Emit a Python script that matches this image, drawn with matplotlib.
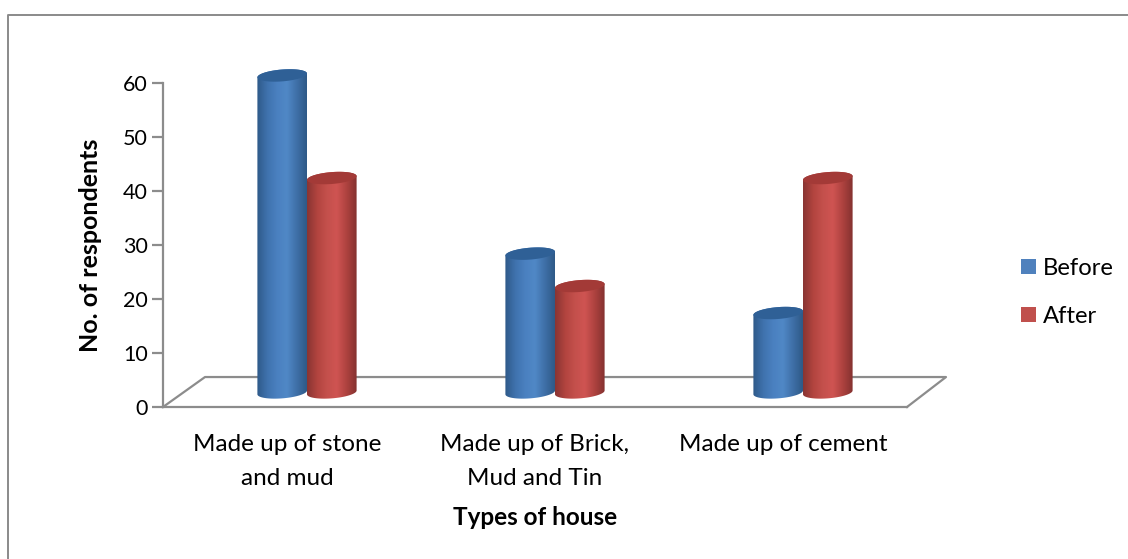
import numpy as np
from matplotlib import pyplot as plt
from matplotlib.colors import LinearSegmentedColormap
from matplotlib.lines import Line2D
from matplotlib.patches import Patch, Polygon

categories = ["Made up of stone\nand mud", "Made up of Brick,\nMud and Tin", "Made up of cement"]
before = [60, 27, 16]
after = [41, 21, 41]
y_ticks = [0, 10, 20, 30, 40, 50, 60]

plt.rcParams["font.family"] = ["Lato", "DejaVu Sans"]

fig = plt.figure(figsize=(11.28, 5.59), dpi=100)
W, H = 1128, 559
ax = fig.add_axes([163 / W, (H - 407) / H, 744 / W, 324 / H])
ax.set_xlim(-0.5, 2.5)
ax.set_ylim(0, 60)

# Chart border, only the top and left edges show in the crop
fig.add_artist(Line2D([7.5 / W, 7.5 / W, 1], [0, (H - 15) / H, (H - 15) / H], color="#8a8a8a", linewidth=1.4))

# Floor of the 3D chart
floor_x = [-0.5, -0.5 + 42 / 248, 2.5 + 39 / 248, 2.5]
floor_y = [0, 5.55, 5.55, 0]
ax.plot(floor_x, floor_y, color="#8c8c8c", linewidth=1.6, clip_on=False, zorder=1)

blue_map = LinearSegmentedColormap.from_list("b", ["#2f5a8a", "#3f72ad", "#4a80c0", "#5088c6", "#3f70a8", "#2f5a88"])
red_map = LinearSegmentedColormap.from_list("r", ["#8a3533", "#b2443f", "#c4504c", "#cf5452", "#ae423f", "#853230"])

bar_width = 0.2
x_shift = 20 / 248
floor_level = 2.7
top_shift = 1.4


def draw_bar(center, value, cmap, top_color):
    left = center - bar_width / 2
    right = center + bar_width / 2
    top = value + top_shift
    t = np.linspace(0, np.pi, 40)
    ex = center + bar_width / 2 * np.cos(t)
    tilt = (ex - center) / (bar_width / 2) * 0.35
    upper = np.sin(t) * 1.1
    outline = np.concatenate([
        np.column_stack([ex, top + upper + tilt]),
        np.column_stack([ex[::-1], floor_level - upper[::-1] + tilt[::-1]]),
    ])
    cap = np.concatenate([
        np.column_stack([ex, top + upper + tilt]),
        np.column_stack([ex[::-1], top - upper[::-1] + tilt[::-1]]),
    ])
    clip = Polygon(outline, facecolor="none", edgecolor="none", clip_on=False)
    ax.add_patch(clip)
    img = ax.imshow(np.linspace(0, 1, 64).reshape(1, -1), extent=[left, right, 0, top + 2],
                    cmap=cmap, aspect="auto", zorder=3)
    # The tallest bar pokes out above the axes box
    img.set_clip_box(fig.bbox)
    img.set_clip_path(clip)
    ax.add_patch(Polygon(cap, facecolor=top_color, edgecolor="none", zorder=4, clip_on=False))


for i in range(len(categories)):
    draw_bar(i + x_shift - bar_width / 2, before[i], blue_map, "#2f6096")
    draw_bar(i + x_shift + bar_width / 2, after[i], red_map, "#a33a37")

ax.set_xlim(-0.5, 2.5)
ax.set_ylim(0, 60)
ax.set_facecolor("none")

for side in ["top", "right"]:
    ax.spines[side].set_visible(False)
for side in ["left", "bottom"]:
    ax.spines[side].set_color("#8c8c8c")
    ax.spines[side].set_linewidth(1.6)

ax.set_yticks(y_ticks)
ax.tick_params(axis="y", length=8, width=1.6, color="#8c8c8c", labelsize=15.5, pad=3)
ax.set_xticks(range(len(categories)))
ax.set_xticklabels(categories, linespacing=1.78)
ax.tick_params(axis="x", length=0, labelsize=17.5, pad=19.5)
ax.set_ylabel("No. of respondents", fontsize=18, fontweight="bold", labelpad=15)
ax.set_xlabel("Types of house", fontsize=17.5, fontweight="bold", labelpad=12)

handles = [Patch(facecolor="#4f81bd", label="Before"), Patch(facecolor="#c0504d", label="After")]
fig.legend(handles=handles, loc="center left", bbox_to_anchor=(1021 / W, (H - 292.5) / H), frameon=False,
           fontsize=17.2, handlelength=0.63, handleheight=0.63, handletextpad=0.3, labelspacing=1.13,
           borderpad=0, borderaxespad=0)

fig.savefig("out.png", dpi=100)
